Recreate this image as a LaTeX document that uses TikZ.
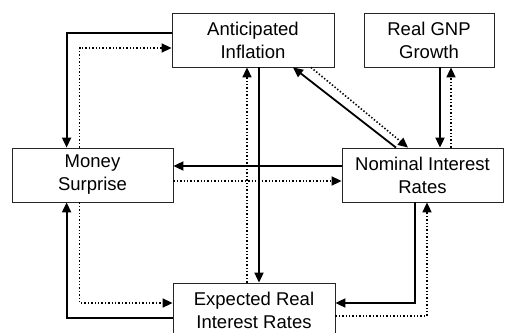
\documentclass[tikz,border=0pt]{standalone}
\usepackage{fontspec}
\setmainfont{Liberation Sans}
\usetikzlibrary{arrows.meta}
\begin{document}
\begin{tikzpicture}[x=1pt,y=-1pt,
  box/.style={draw=black!85, line width=0.8pt, fill=white, align=center,
    inner sep=0pt, font=\fontsize{18.5}{23}\selectfont},
  sarr/.style={line width=1.8pt, -{Triangle[length=10pt,width=9pt]}},
  darr/.style={line width=1.6pt, dash pattern=on 1.4pt off 2pt, -{Triangle[length=10pt,width=9pt]}}]
\clip (0,0) rectangle (522,332);
\fill[white] (0,0) rectangle (522,332);
\node[box, minimum width=162pt, minimum height=54pt] (ai) at (253,40) {Anticipated\\Inflation};
\node[box, minimum width=130pt, minimum height=54pt] (gnp) at (429,40) {Real GNP\\Growth};
\node[box, minimum width=161pt, minimum height=54pt] (ms) at (92.5,175) {Money\\Surprise};
\node[box, minimum width=161pt, minimum height=54pt] (nir) at (422.5,175) {Nominal Interest\\Rates};
\node[box, minimum width=162pt, minimum height=54pt] (eri) at (254,310) {Expected Real\\Interest Rates};
% AI <-> MS
\draw[sarr] ([yshift=7pt]ai.west) -| ([xshift=55pt]ms.north west);
\draw[darr] ([xshift=68pt]ms.north west) |- ([yshift=-8pt]ai.west);
% AI <-> ERI
\draw[sarr] ([xshift=6pt]ai.south) -- ([xshift=6pt]ai.south |- eri.north);
\draw[darr] ([xshift=-7pt]eri.north) -- ([xshift=-7pt]eri.north |- ai.south);
% NIR <-> MS
\draw[sarr] ([yshift=9pt]nir.west) -- ([yshift=9pt]nir.west -| ms.east);
\draw[darr] ([yshift=-6pt]ms.east) -- ([yshift=-6pt]ms.east -| nir.west);
% GNP <-> NIR
\draw[sarr] ([xshift=11pt]gnp.south) -- ([xshift=11pt]gnp.south |- nir.north);
\draw[darr] ([xshift=22pt]gnp.south |- nir.north) -- ([xshift=22pt]gnp.south);
% NIR <-> AI diagonal
\draw[sarr] ([xshift=-26.5pt]nir.north) -- ([xshift=40pt]ai.south);
\draw[darr] ([xshift=58pt]ai.south) -- ([xshift=-14.5pt]nir.north);
% ERI <-> MS
\draw[sarr] ([yshift=-8pt]eri.west) -| ([xshift=55pt]ms.south west);
\draw[darr] ([xshift=68pt]ms.south west) |- ([yshift=7pt]eri.west);
% NIR <-> ERI
\draw[sarr] ([xshift=-7.5pt]nir.south) |- ([yshift=7pt]eri.east);
\draw[darr] ([yshift=-6pt]eri.east) -| ([xshift=4.5pt]nir.south);
\end{tikzpicture}
\end{document}
